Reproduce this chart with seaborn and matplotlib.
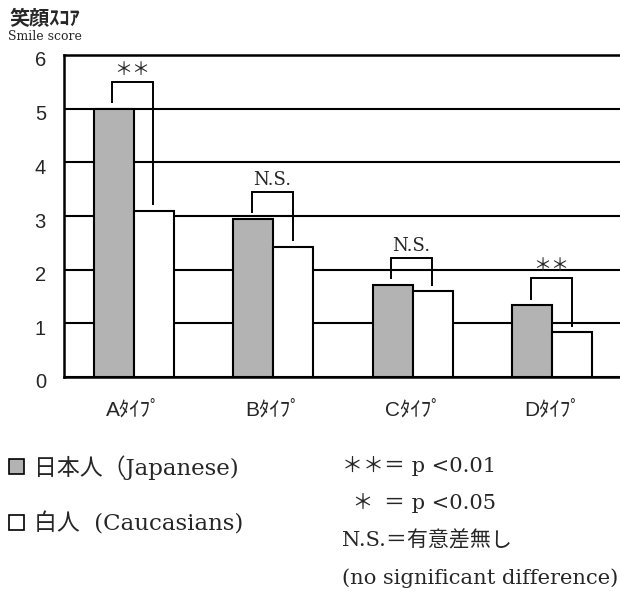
import matplotlib
matplotlib.use("Agg")
import matplotlib.pyplot as plt
import matplotlib.transforms as mtransforms
import seaborn as sns
import pandas as pd
from matplotlib.font_manager import FontProperties

# ---- data ----
categories = ["Aﾀｲﾌﾟ", "Bﾀｲﾌﾟ", "Cﾀｲﾌﾟ", "Dﾀｲﾌﾟ"]
japanese = [5.0, 2.95, 1.72, 1.34]
caucasian = [3.1, 2.43, 1.6, 0.84]
significance = ["＊＊", "N.S.", "N.S.", "＊＊"]
group_names = ["Japanese", "Caucasian"]
legend_labels = ["日本人（Japanese)", "白人  (Caucasians)"]
yticks = [0, 1, 2, 3, 4, 5, 6]
title_jp = "笑顔ｽｺｱ"
title_en = "Smile score"
note_lines = ["＊＊＝ p <0.01", "\u2002＊\u2002＝ p <0.05", "N.S.＝有意差無し",
              "(no significant difference)"]

sns.set_style("white")
plt.rcParams["font.family"] = ["DejaVu Serif", "Noto Sans CJK JP"]

df = pd.DataFrame({
    "category": categories * 2,
    "score": japanese + caucasian,
    "group": [group_names[0]] * len(categories) + [group_names[1]] * len(categories),
})

W, H = 620, 603
fig = plt.figure(figsize=(W / 100, H / 100), dpi=100)
ax = fig.add_axes([64 / W, 1 - 377 / H, (622 - 64) / W, (377 - 55) / H])

sns.barplot(data=df, x="category", y="score", hue="group", order=categories,
            hue_order=group_names,
            palette={group_names[0]: "#b3b3b3", group_names[1]: "white"},
            width=0.575, edgecolor="black", linewidth=1.5, saturation=1,
            errorbar=None, ax=ax)

ax.set_xlim(-0.5, 3.5)
ax.set_ylim(0, 6)
ax.set_yticks(yticks)
ax.set_axisbelow(True)
ax.yaxis.grid(True, color="black", linewidth=1.5)
ax.xaxis.grid(False)
for s in ax.spines.values():
    s.set_color("black")
    s.set_linewidth(1.8)
ax.set_xlabel("")
ax.set_ylabel("")

ytick_font = FontProperties(family=["Liberation Sans"], size=14.5)
xtick_font = FontProperties(family=["Liberation Sans", "Noto Sans CJK JP"], size=15)
ax.set_yticklabels([str(v) for v in yticks], fontproperties=ytick_font)
ax.set_xticks(range(len(categories)))
ax.set_xticklabels(categories, fontproperties=xtick_font)
ax.tick_params(axis="y", length=0, pad=13)
ax.tick_params(axis="x", which="major", length=0, pad=17)
ax.set_xticks([i + 0.5 for i in range(len(categories) - 1)], minor=True)
ax.tick_params(axis="x", which="minor", direction="in", length=5, width=1.2,
               color="black")
shift = mtransforms.ScaledTranslation(0, -4 / 100, fig.dpi_scale_trans)
for lab in ax.get_yticklabels():
    lab.set_transform(lab.get_transform() + shift)

# significance brackets
for i, (j, c, lab) in enumerate(zip(japanese, caucasian, significance)):
    xl, xr = i - 0.155, i + 0.14
    top = max(j, c) + 0.5
    ax.plot([xl, xl, xr, xr], [j + 0.1, top, top, c + 0.1], color="black",
            linewidth=1.4, solid_capstyle="butt", solid_joinstyle="miter")
    ax.text(i - 0.01, top + 0.06, lab, ha="center", va="bottom", fontsize=13,
            family=["DejaVu Serif", "Noto Sans CJK JP"])

# titles
fig.text(9 / W, 1 - 19 / H, title_jp, ha="left", va="center", fontsize=14.5,
         family=["Noto Sans CJK JP"], fontweight="bold")
fig.text(8 / W, 1 - 37 / H, title_en, ha="left", va="center", fontsize=9,
         family=["DejaVu Serif"])

# legend
handles, _ = ax.get_legend_handles_labels()
if ax.get_legend() is not None:
    ax.get_legend().remove()
for h in handles:
    h.set_edgecolor("black")
    h.set_linewidth(1.2)
fig.legend(handles, legend_labels, loc="upper left",
           bbox_to_anchor=(9 / W, 1 - 455 / H), frameon=False,
           prop=FontProperties(family=["DejaVu Serif", "Noto Sans CJK JP"], size=16.5),
           handlelength=0.65, handleheight=0.65, handletextpad=0.45,
           labelspacing=1.44, borderpad=0, borderaxespad=0)

# notes
for k, (line, yc) in enumerate(zip(note_lines, [466, 503, 540, 578])):
    fig.text(342 / W, 1 - yc / H, line, ha="left", va="center", fontsize=15.1,
             family=["DejaVu Serif", "Noto Sans CJK JP"])

fig.savefig("out.png", dpi=100)
